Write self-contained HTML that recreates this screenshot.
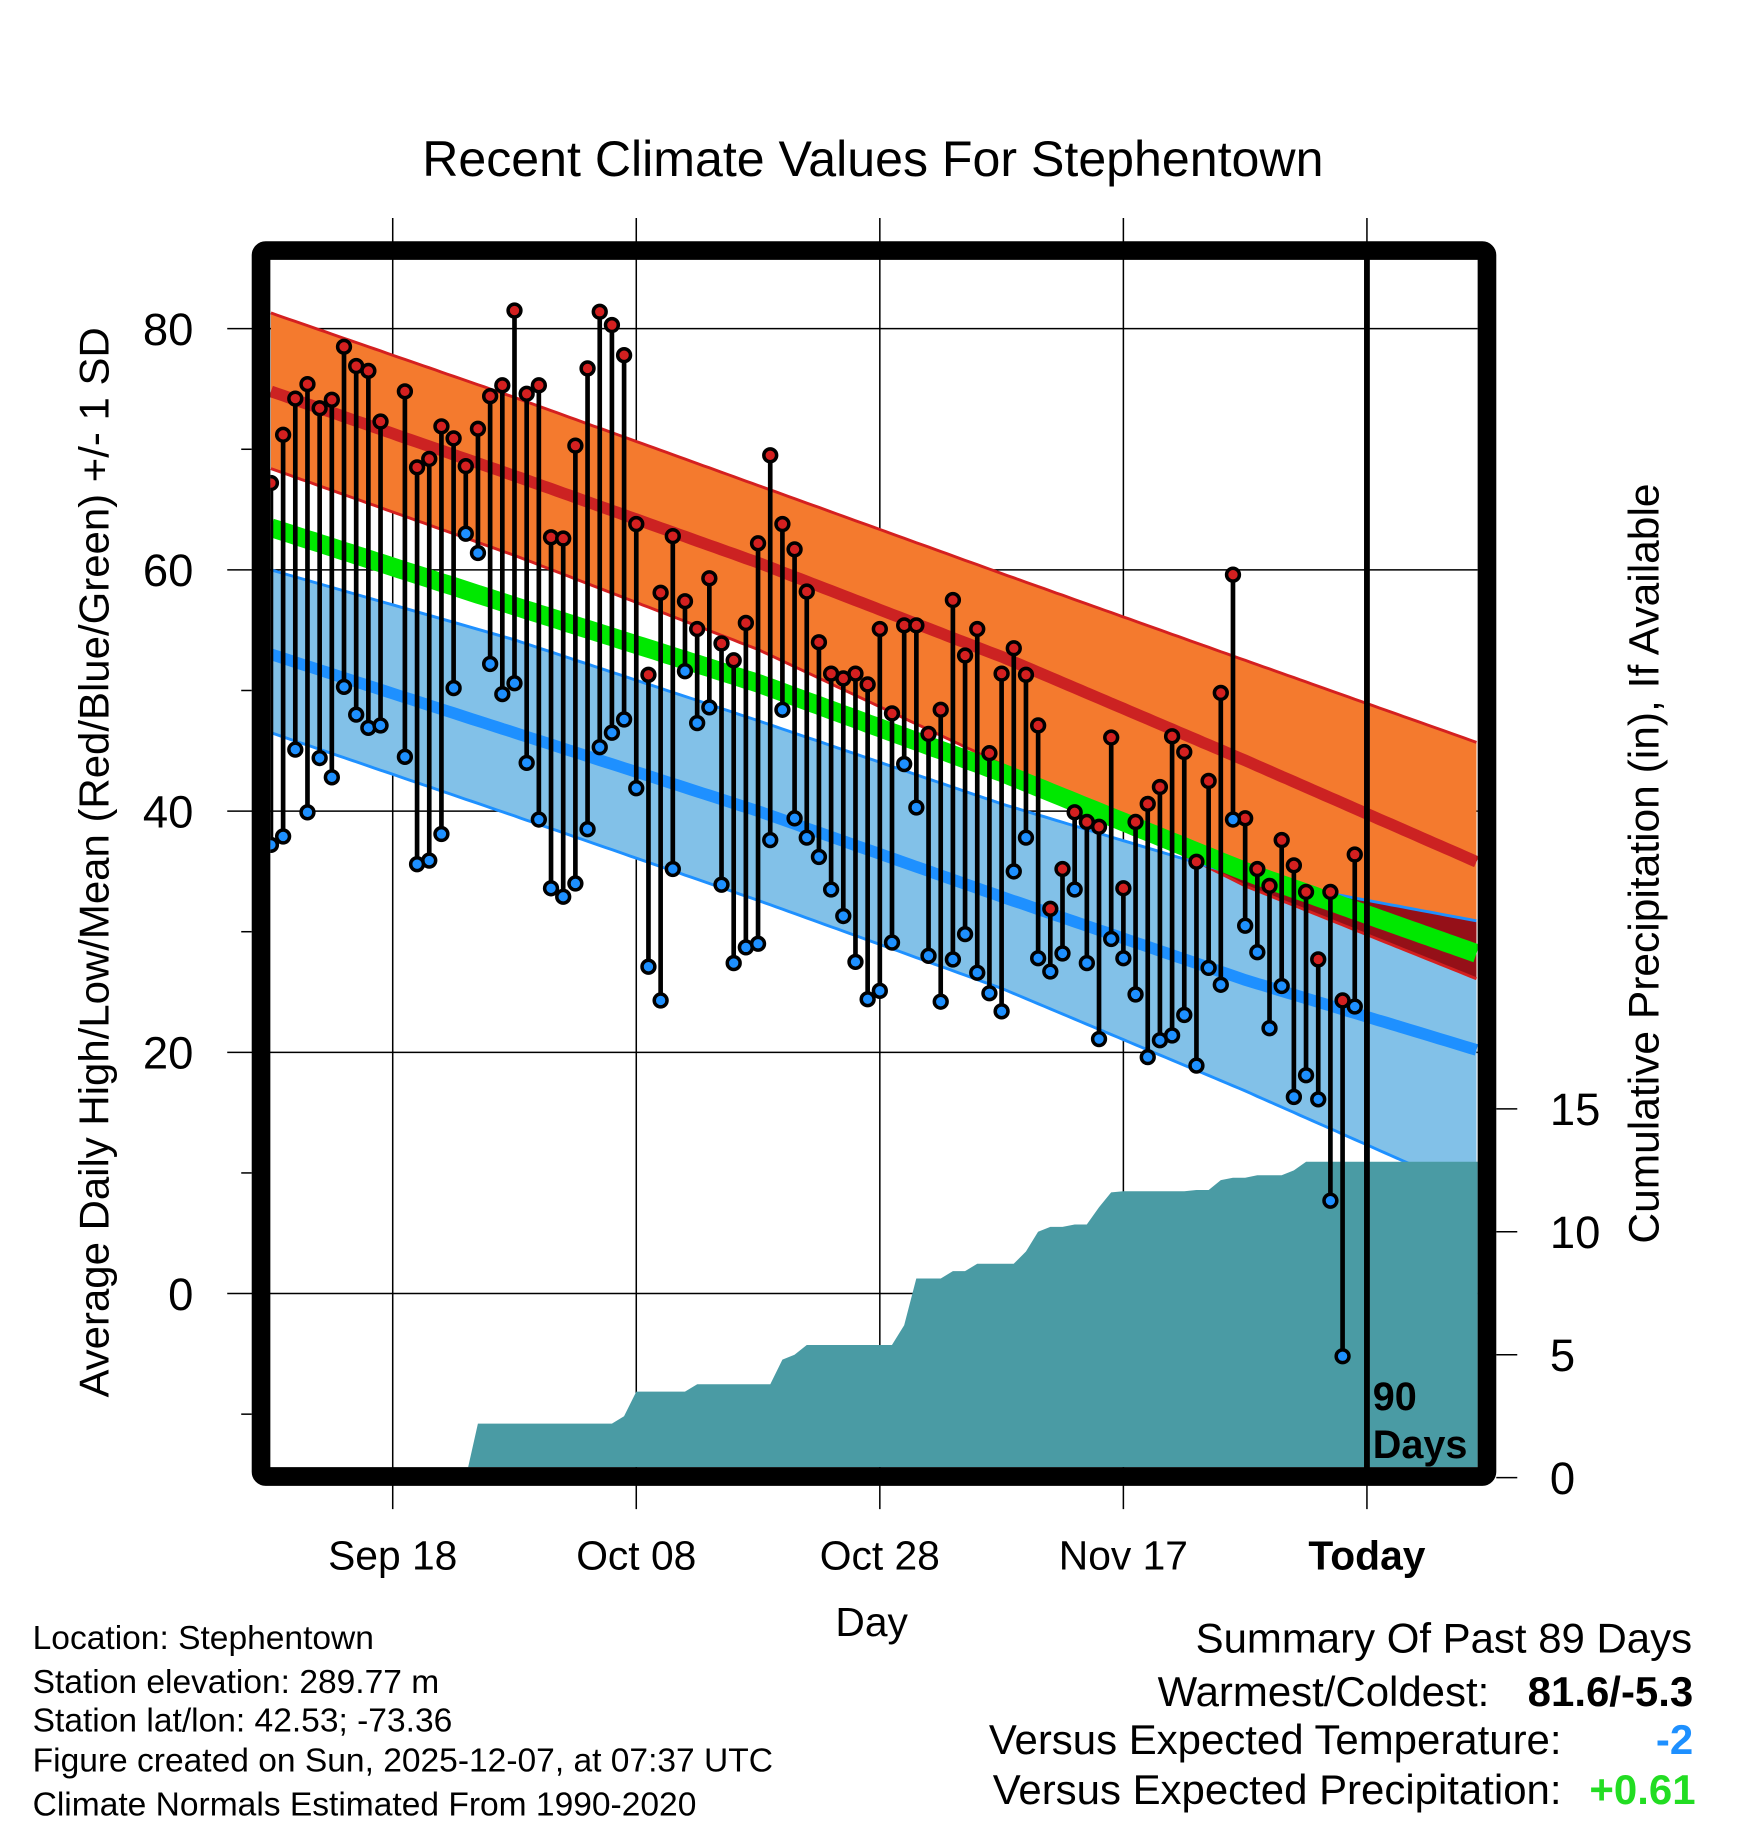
<!DOCTYPE html>
<html><head><meta charset="utf-8"><style>
html,body{margin:0;padding:0;background:#fff}
svg{display:block;font-family:"Liberation Sans",Arial,sans-serif}
</style></head><body>
<svg id="chart" xmlns="http://www.w3.org/2000/svg" width="1748" height="1828" viewBox="0 0 1500 1568.6">
<defs><clipPath id="plotclip"><rect x="232" y="224" width="1036" height="1035"/></clipPath></defs>
<text x="749" y="151" font-size="43" text-anchor="middle">Recent Climate Values For Stephentown</text>
<g id="grid"></g>
<g id="plot" clip-path="url(#plotclip)"></g>
<g id="axes"></g>
<text transform="translate(93,740) rotate(-90)" font-size="36" text-anchor="middle">Average Daily High/Low/Mean (Red/Blue/Green) +/- 1 SD</text>
<text transform="translate(1423,741) rotate(-90)" font-size="36.5" text-anchor="middle">Cumulative Precipitation (in), If Available</text>
<text x="748" y="1404" font-size="35" text-anchor="middle">Day</text>
<g font-size="28.8">
<text x="28" y="1415">Location: Stephentown</text>
<text x="28" y="1453">Station elevation: 289.77 m</text>
<text x="28" y="1486">Station lat/lon: 42.53; -73.36</text>
<text x="28" y="1520">Figure created on Sun, 2025-12-07, at 07:37 UTC</text>
<text x="28" y="1558">Climate Normals Estimated From 1990-2020</text>
</g>
<g font-size="36">
<text x="1452" y="1418" text-anchor="end">Summary Of Past 89 Days</text>
<text x="1278" y="1464" text-anchor="end">Warmest/Coldest:</text>
<text x="1453" y="1464" text-anchor="end" font-weight="bold">81.6/-5.3</text>
<text x="1340" y="1505" text-anchor="end">Versus Expected Temperature:</text>
<text x="1453" y="1505" text-anchor="end" font-weight="bold" fill="#1E90FF">-2</text>
<text x="1340" y="1548" text-anchor="end">Versus Expected Precipitation:</text>
<text x="1455" y="1548" text-anchor="end" font-weight="bold" fill="#22DD22">+0.61</text>
</g>
</svg>
<script>
const highs=[67.2,71.2,74.2,75.4,73.4,74.1,78.5,76.9,76.5,72.3,null,74.8,68.5,69.2,71.9,70.9,68.6,71.7,74.4,75.3,81.5,74.6,75.3,62.7,62.6,70.3,76.7,81.4,80.3,77.8,63.8,51.3,58.1,62.8,57.4,55.1,59.3,53.9,52.5,55.6,62.2,69.5,63.8,61.7,58.2,54.0,51.4,51.0,51.4,50.5,55.1,48.1,55.4,55.4,46.4,48.4,57.5,52.9,55.1,44.8,51.4,53.5,51.3,47.1,31.9,35.2,39.9,39.1,38.7,46.1,33.6,39.1,40.6,42.0,46.2,44.9,35.8,42.5,49.8,59.6,39.4,35.2,33.8,37.6,35.5,33.3,27.7,33.3,24.3,36.4];
const lows=[37.2,37.9,45.1,39.9,44.4,42.8,50.3,48.0,46.9,47.1,null,44.5,35.6,35.9,38.1,50.2,63.0,61.4,52.2,49.7,50.6,44.0,39.3,33.6,32.9,34.0,38.5,45.3,46.5,47.6,41.9,27.1,24.3,35.2,51.6,47.3,48.6,33.9,27.4,28.7,29.0,37.6,48.4,39.4,37.8,36.2,33.5,31.3,27.5,24.4,25.1,29.1,43.9,40.3,28.0,24.2,27.7,29.8,26.6,24.9,23.4,35.0,37.8,27.8,26.7,28.2,33.5,27.4,21.1,29.4,27.8,24.8,19.6,21.0,21.4,23.1,18.9,27.0,25.6,39.3,30.5,28.3,22.0,25.5,16.3,18.1,16.1,7.7,-5.2,23.8];
const precip=[0,0,0,0,0,0,0,0,0,0,0,0,0,0,0,0,0,2.2,2.2,2.2,2.2,2.2,2.2,2.2,2.2,2.2,2.2,2.2,2.2,2.5,3.5,3.5,3.5,3.5,3.5,3.8,3.8,3.8,3.8,3.8,3.8,3.8,4.8,5.0,5.4,5.4,5.4,5.4,5.4,5.4,5.4,5.4,6.2,8.1,8.1,8.1,8.4,8.4,8.7,8.7,8.7,8.7,9.2,10.0,10.2,10.2,10.3,10.3,11.0,11.6,11.65,11.65,11.65,11.65,11.65,11.65,11.7,11.7,12.1,12.2,12.2,12.3,12.3,12.3,12.5,12.85,12.85,12.85,12.85,12.85];
const normDays=[0,20,40,60,80,99];
const highPlus=[81.3,74.3,67.0,59.7,52.5,45.7];
const highMean=[74.8,67.8,60.6,52.8,44.2,35.8];
const highMinus=[68.4,61.2,53.4,43.9,33.8,26.1];
const avgMean=[63.5,57.0,50.6,43.2,35.0,28.2];
const lowPlus=[60.0,54.2,47.5,40.6,34.5,30.9];
const lowMean=[53.0,46.5,40.0,32.9,26.0,20.2];
const lowMinus=[46.5,39.6,32.6,25.3,16.8,8.3];
const yTicks=[0,20,40,60,80];
const yMinor=[-10,10,30,50,70];
const pTicks=[0,5,10,15];
const xTickLabels=["Sep 18","Oct 08","Oct 28","Nov 17","Today"];
const xTickDays=[10,30,50,70,90];

const NS="http://www.w3.org/2000/svg";
const X=d=>232.5+10.45*d;
const Y=v=>1110-10.35*v;
const P=p=>1268-21.1*p;
function mk(tag,attrs,parent){const e=document.createElementNS(NS,tag);for(const k in attrs)e.setAttribute(k,attrs[k]);parent.appendChild(e);return e;}
const grid=document.getElementById('grid'),plot=document.getElementById('plot'),axes=document.getElementById('axes'),svg=document.getElementById('chart');
yTicks.forEach(v=>{const l=mk('line',{x1:195,x2:1268,y1:Y(v),y2:Y(v),stroke:'#000','stroke-width':1.3},grid);


const t=mk('text',{x:166,y:Y(v)+14,'font-size':39,'text-anchor':'end'},axes);t.textContent=v;

});
yMinor.forEach(v=>{const l=mk('line',{x1:207,x2:216,y1:Y(v),y2:Y(v),stroke:'#000','stroke-width':1.3},grid);

});
xTickDays.forEach((d,i)=>{const l=mk('line',{x1:X(d),x2:X(d),y1:187,y2:1295,stroke:'#000','stroke-width':1.3},grid);


const t=mk('text',{x:X(d),y:1347,'font-size':35,'text-anchor':'middle'},axes);t.textContent=xTickLabels[i];
if(i===4)t.setAttribute('font-weight','bold');

});
pTicks.forEach(p=>{const l=mk('line',{x1:1284,x2:1302,y1:P(p),y2:P(p),stroke:'#000','stroke-width':1.3},axes);


const t=mk('text',{x:1330,y:P(p)+14,'font-size':39},axes);t.textContent=p;

});
function interp(arr,d){for(let i=0;i<normDays.length-1;i++){if(d<=normDays[i+1]){const t=(d-normDays[i])/(normDays[i+1]-normDays[i]);return arr[i]+t*(arr[i+1]-arr[i]);}}return arr[arr.length-1];}
const dense=[];for(let d=0;d<=99.2;d+=0.5)dense.push(d);
function lineStr(arr){return dense.map(d=>X(d).toFixed(1)+','+Y(interp(arr,d)).toFixed(1)).join(' ');}
function bandStr(a,b){return lineStr(a)+' '+dense.slice().reverse().map(d=>X(d).toFixed(1)+','+Y(interp(b,d)).toFixed(1)).join(' ');}
const defs=svg.querySelector('defs');
const cp=mk('clipPath',{id:'orangeclip'},defs);mk('polygon',{points:bandStr(highPlus,highMinus)},cp);
let e;
e=mk('polygon',{points:bandStr(lowPlus,lowMinus),fill:'#82C1E8'},plot);


e=mk('polygon',{points:bandStr(highPlus,highMinus),fill:'#F47A2E'},plot);


e=mk('polygon',{points:bandStr(lowPlus,lowMinus),fill:'#951018','clip-path':'url(#orangeclip)'},plot);


[[highPlus,'#D42020',2.5,'high-plus-sd-line'],[highMinus,'#D42020',2.5,'high-minus-sd-line'],[highMean,'#CC2222',10,'high-mean-line'],[lowPlus,'#1E90FF',2.5,'low-plus-sd-line'],[lowMinus,'#1E90FF',2.5,'low-minus-sd-line'],[lowMean,'#1E90FF',10,'low-mean-line'],[avgMean,'#00E800',16,'mean-line']].forEach(s=>{
e=mk('polyline',{points:lineStr(s[0]),fill:'none',stroke:s[1],'stroke-width':s[2]},plot);

});
let pp=precip.map((p,i)=>X(i).toFixed(1)+','+P(p).toFixed(1));
pp.push('1270,'+P(precip[precip.length-1]).toFixed(1),'1270,1270',X(0)+',1270');
e=mk('polygon',{points:pp.join(' '),fill:'#4A9BA4'},plot);


highs.forEach((h,i)=>{const l=lows[i];if(h==null||l==null)return;
e=mk('line',{x1:X(i),x2:X(i),y1:Y(h),y2:Y(l),stroke:'#000','stroke-width':4},plot);

});
highs.forEach((h,i)=>{if(h==null)return;
e=mk('circle',{cx:X(i),cy:Y(h),r:5.5,fill:'#D42020',stroke:'#000','stroke-width':3},plot);

});
lows.forEach((l,i)=>{if(l==null)return;
e=mk('circle',{cx:X(i),cy:Y(l),r:5.5,fill:'#1E90FF',stroke:'#000','stroke-width':3},plot);

});
e=mk('line',{x1:X(90),x2:X(90),y1:212,y2:1262,stroke:'#000','stroke-width':5},axes);


e=mk('text',{x:1178,y:1210,'font-size':34,'font-weight':'bold'},axes);e.textContent='90';


e=mk('text',{x:1178,y:1251,'font-size':34,'font-weight':'bold'},axes);e.textContent='Days';


e=mk('rect',{x:224,y:215,width:1052,height:1052,rx:4,fill:'none',stroke:'#000','stroke-width':16},axes);


</script>
</body></html>
